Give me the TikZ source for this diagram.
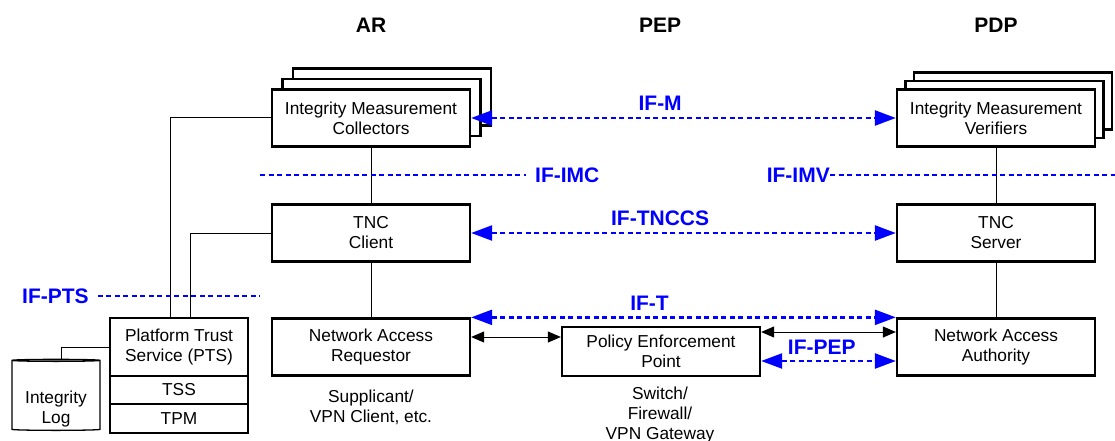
\documentclass[tikz,border=0pt]{standalone}
\usepackage{fontspec}
\setmainfont{Liberation Sans}
\usetikzlibrary{calc}
\usetikzlibrary{shapes.geometric}
\usetikzlibrary{arrows.meta}
\tikzset{
  comp/.style={draw, line width=2.3pt, fill=white, minimum width=198pt, minimum height=57pt,
    inner sep=0pt, align=center, font=\fontsize{17.3}{20}\selectfont},
  ptsbox/.style={comp, minimum width=138pt},
  ifline/.style={blue, line width=2.4pt, dash pattern=on 5pt off 3.5pt},
  ifarrow/.style={ifline, {Triangle[length=21pt,width=15pt]}-{Triangle[length=21pt,width=15pt]}},
  iflabel/.style={blue, inner sep=0pt, font=\bfseries\fontsize{21}{24}\selectfont},
  head/.style={inner sep=0pt, font=\bfseries\fontsize{21}{24}\selectfont},
  link/.style={line width=1pt},
  msg/.style={line width=1pt, {Triangle[length=13pt,width=11pt]}-{Triangle[length=13pt,width=11pt]}},
  note/.style={align=center, inner sep=0pt, font=\fontsize{17.3}{20}\selectfont}
}
\newcommand{\compnode}[4]{\node[comp] (#1) at (#2,#3) {#4};}
\newcommand{\backcard}[3]{\node[comp] (#1) at (#2,#3) {};}

\begin{document}
\begin{tikzpicture}[x=1pt, y=-1pt]
  \useasboundingbox (0,0) rectangle (1115,441);

  % headers
  \node[head] (ar) at (371,25) {AR};
  \node[head] (pep-h) at (660,25) {PEP};
  \node[head] (pdp) at (996,25) {PDP};

  % AR side
  \backcard{imc3}{392}{97}
  \backcard{imc2}{381.5}{107.5}
  \compnode{imc}{371}{118}{Integrity Measurement\\Collectors}
  \compnode{tncc}{371}{233}{TNC\\Client}
  \compnode{nar}{371}{347}{Network Access\\Requestor}
  \node[note] (nar-n) at (371,407) {Supplicant/\\VPN Client, etc.};

  % PTS
  \node[ptsbox, minimum height=58pt] (pts) at (179,347) {Platform Trust\\Service (PTS)};
  \node[ptsbox, minimum height=28pt] (tss) at (179,390) {TSS};
  \node[ptsbox, minimum height=29pt] (tpm) at (179,418.5) {TPM};
  \node[cylinder, shape border rotate=90, draw, line width=1.3pt, aspect=0.3,
        minimum width=88pt, minimum height=71pt, anchor=south] (log) at (56,431) {};
  \node[note] (log-t) at (56,409) {Integrity\\Log};

  % PEP
  \node[comp, minimum height=49pt] (pep) at (661,351.5) {Policy Enforcement\\Point};
  \node[note] (pep-n) at (660,415) {Switch/\\Firewall/\\VPN Gateway};

  % PDP side
  \backcard{imv3}{1013}{101}
  \backcard{imv2}{1004.5}{109.5}
  \compnode{imv}{996}{118}{Integrity Measurement\\Verifiers}
  \compnode{tncs}{996}{233}{TNC\\Server}
  \compnode{naa}{996}{347}{Network Access\\Authority}

  % plain links
  \draw[link] (imc) -- (tncc);
  \draw[link] (tncc) -- (nar);
  \draw[link] (imv) -- (tncs);
  \draw[link] (tncs) -- (naa);
  \draw[link] (imc.west) -| ([xshift=-9pt]pts.north);
  \draw[link] (tncc.west) -| ([xshift=11pt]pts.north);
  \draw[link] ([xshift=5pt]log.north) |- (pts.west);

  % interface lines
  \node[iflabel, anchor=west] (ifimc) at (535,175) {IF-IMC};
  \coordinate (imc-l) at (260,175);
  \draw[ifline] (imc-l) -- ([xshift=-9pt]ifimc.west);
  \node[iflabel, anchor=east] (ifimv) at (830,175) {IF-IMV};
  \coordinate (imv-r) at (1115,175);
  \draw[ifline] (ifimv.east) -- (imv-r);
  \node[iflabel, anchor=west] (ifpts) at (22,296) {IF-PTS};
  \coordinate (pts-r) at (260,296);
  \draw[ifline] ([xshift=9pt]ifpts.east) -- (pts-r);

  % interface arrows
  \draw[ifarrow] (imc.east) -- node[iflabel, pos=0.445, above=6pt] (ifm) {IF-M} (imv.west);
  \draw[ifarrow] (tncc.east) -- node[iflabel, pos=0.445, above=6pt] (iftnccs) {IF-TNCCS} (tncs.west);
  \draw[ifarrow] (nar.north east) -- node[iflabel, pos=0.42, above=6pt] (ift) {IF-T} (naa.north west);
  \draw[ifarrow] ([yshift=-9.5pt]pep.east) -- node[iflabel, pos=0.45, above=5pt] (ifpep) {IF-PEP} ([yshift=-14pt]naa.west);

  % messages
  \draw[msg] ([yshift=10pt]nar.east) -- ([yshift=14.5pt]pep.west);
  \draw[msg] ([yshift=19.5pt]pep.east) -- ([yshift=15pt]naa.west);
\end{tikzpicture}
\end{document}
